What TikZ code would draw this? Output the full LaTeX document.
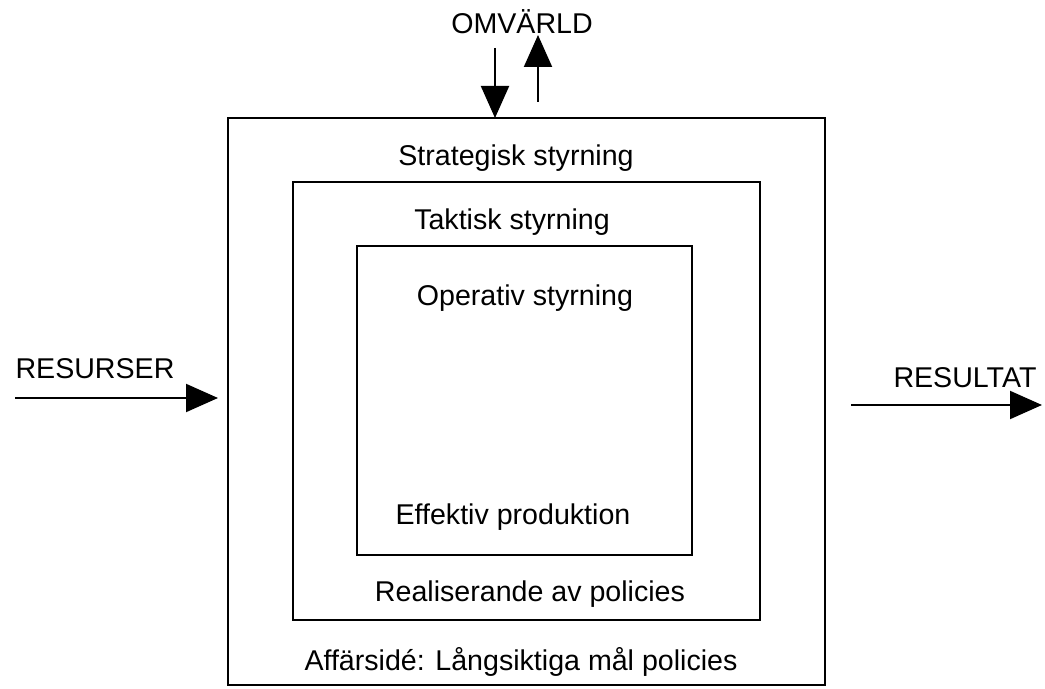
\documentclass[tikz,border=0pt]{standalone}
\usepackage{fontspec}
\setmainfont{Liberation Sans}
\usetikzlibrary{arrows.meta}
\begin{document}
\begin{tikzpicture}[x=0.5pt,y=-0.5pt,
  box/.style={draw,line width=1pt,inner sep=0pt},
  lbl/.style={inner sep=0pt,font=\fontsize{14.3}{17}\selectfont},
  arr/.style={line width=1pt,-{Triangle[length=16pt,width=14pt]}}]
\useasboundingbox (0,0) rectangle (1045,689);
\node[box,minimum width=298.5pt,minimum height=283.5pt] (outer) at (526.5,401.5) {};
\node[box,minimum width=233.5pt,minimum height=219pt] (middle) at (526.5,401) {};
\node[box,minimum width=167.5pt,minimum height=154.5pt] (inner) at (524.5,400.5) {};
\node[lbl] (omv) at (522,22) {OMVÄRLD};
\node[lbl] (strat) at (516,158) {Strategisk styrning};
\node[lbl] (takt) at (512,222) {Taktisk styrning};
\node[lbl] (oper) at (525,298) {Operativ styrning};
\node[lbl] (eff) at (513,517) {Effektiv produktion};
\node[lbl] (real) at (530,594) {Realiserande av policies};
\node[lbl] (aff) at (521,662) {Affärsidé: Långsiktiga mål policies};
\node[lbl] (res) at (95,369) {RESURSER};
\node[lbl] (resu) at (965,378) {RESULTAT};
\coordinate (dstart) at (495,48);
\coordinate (dend) at (495,118);
\coordinate (ustart) at (538,102);
\coordinate (uend) at (538,35);
\coordinate (lstart) at (15,398);
\coordinate (lend) at (218,398);
\coordinate (rstart) at (851,405);
\coordinate (rend) at (1042,405);
\draw[arr] (dstart) -- (dend);
\draw[arr] (ustart) -- (uend);
\draw[arr] (lstart) -- (lend);
\draw[arr] (rstart) -- (rend);
\end{tikzpicture}
\end{document}
